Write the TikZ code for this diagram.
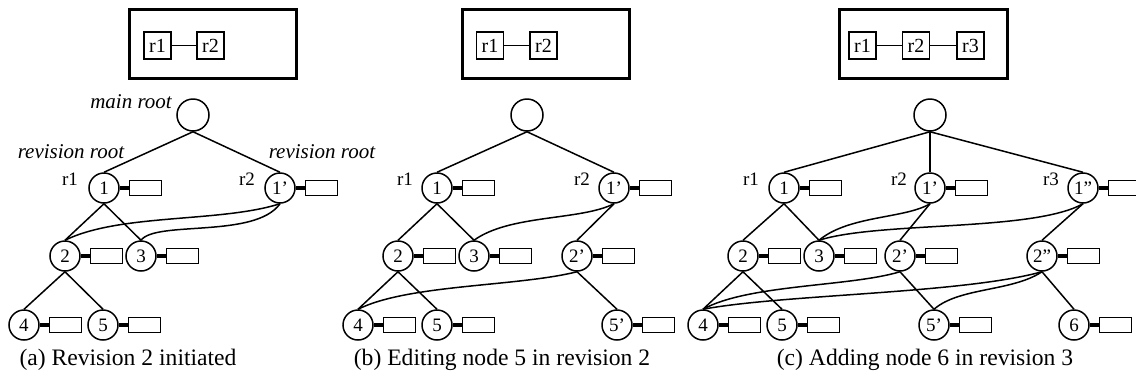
\documentclass[tikz,border=0pt]{standalone}
\usepackage{fontspec}
\setmainfont{Liberation Serif}
\usetikzlibrary{positioning}

\tikzset{
  vtx/.style={draw, circle, line width=0.75pt, minimum size=15pt, inner sep=0pt,
    font=\fontsize{9.5}{10}\selectfont},
  rootvtx/.style={vtx, minimum size=16pt},
  rec/.style={draw, line width=0.75pt, minimum width=16pt, minimum height=7.5pt, inner sep=0pt},
  link/.style={line width=2pt},
  edge/.style={line width=0.75pt},
  revbox/.style={draw, line width=0.7pt, minimum size=13.5pt, inner sep=0pt,
    font=\fontsize{10}{10}\selectfont},
  frame/.style={line width=1.5pt},
  tag/.style={font=\fontsize{9.5}{10}\selectfont},
  note/.style={font=\fontsize{10.5}{12}\selectfont\itshape},
  caption/.style={anchor=base, font=\fontsize{11.8}{14}\selectfont}
}

\begin{document}
\begin{tikzpicture}[x=0.5pt, y=-0.5pt]
\useasboundingbox (0,0) rectangle (1136,381);

% Revision lists (top)
\draw[frame] (129,9) rectangle (296,78);
\node[revbox] (ar1) at (157.5,45.5) {r1};
\node[revbox] (ar2) at (210.5,45.5) {r2};
\draw[edge] (ar1) -- (ar2);

\draw[frame] (462,9) rectangle (629,78);
\node[revbox] (br1) at (490,45.5) {r1};
\node[revbox] (br2) at (543.5,45.5) {r2};
\draw[edge] (br1) -- (br2);

\draw[frame] (839,9) rectangle (1007,78);
\node[revbox] (cr1) at (862.5,45.5) {r1};
\node[revbox] (cr2) at (916,45.5) {r2};
\node[revbox] (cr3) at (970.5,45.5) {r3};
\draw[edge] (cr1) -- (cr2) -- (cr3);

% Main roots
\node[rootvtx] (aroot) at (193,115) {};
\node[rootvtx] (broot) at (527,115) {};
\node[rootvtx] (croot) at (930,115) {};

% Tree nodes with their records
\foreach \n/\x/\y/\t in {a1/104/188/1, a1b/280/188/1', a2/65/256/2, a3/141/256/3,
    a4/24/325/4, a5/103/325/5,
    b1/437/188/1, b1b/614/188/1', b2/398/256/2, b3/474/256/3, b2b/577/256/2',
    b4/358/325/4, b5/437/325/5, b5b/617/325/5',
    c1/784/188/1, c1b/930/188/1', c1c/1083/188/1'', c2/743/256/2, c3/819/256/3,
    c2b/900/256/2', c2c/1042/256/2'', c4/703/325/4, c5/782/325/5,
    c5b/934/325/5', c6/1074/325/6}
{
  \node[vtx] (\n) at (\x,\y) {\t};
  \node[rec, right=4.5pt of \n] (\n-r) {};
  \draw[link] (\n) -- (\n-r);
}

% (a) edges
\draw[edge] (aroot.south) -- (a1.north);
\draw[edge] (aroot.south) -- (a1b.north);
\draw[edge] (a1.south) -- (a2.north);
\draw[edge] (a1.south) -- (a3.north);
\draw[edge] (a2.south) -- (a4.north);
\draw[edge] (a2.south) -- (a5.north);
\draw[edge] (a1b.south) .. controls +(-60,19) and +(55,-27) .. (a2.north);
\draw[edge] (a1b.south) .. controls +(-25,35) and +(15,-20) .. (a3.north);

% (b) edges
\draw[edge] (broot.south) -- (b1.north);
\draw[edge] (broot.south) -- (b1b.north);
\draw[edge] (b1.south) -- (b2.north);
\draw[edge] (b1.south) -- (b3.north);
\draw[edge] (b2.south) -- (b4.north);
\draw[edge] (b2.south) -- (b5.north);
\draw[edge] (b1b.south) -- (b2b.north);
\draw[edge] (b2b.south) -- (b5b.north);
\draw[edge] (b1b.south) .. controls +(-34,17) and +(36,-26) .. (b3.north);
\draw[edge] (b2b.south) .. controls +(-60,15) and +(50,-25) .. (b4.north);

% (c) edges
\draw[edge] (croot.south) -- (c1.north);
\draw[edge] (croot.south) -- (c1b.north);
\draw[edge] (croot.south) -- (c1c.north);
\draw[edge] (c1.south) -- (c2.north);
\draw[edge] (c1.south) -- (c3.north);
\draw[edge] (c2.south) -- (c4.north);
\draw[edge] (c2.south) -- (c5.north);
\draw[edge] (c1b.south) -- (c2b.north);
\draw[edge] (c2b.south) -- (c5b.north);
\draw[edge] (c1c.south) -- (c2c.north);
\draw[edge] (c2c.south) -- (c6.north);
\draw[edge] (c1b.south) .. controls +(-25,15) and +(30,-25) .. (c3.north);
\draw[edge] (c1c.south) .. controls +(-50,28) and +(60,-19) .. (c3.north);
\draw[edge] (c2b.south) .. controls +(-50,15) and +(45,-25) .. (c4.north);
\draw[edge] (c2c.south) .. controls +(-80,22) and +(80,-15) .. (c4.north);
\draw[edge] (c2c.south) .. controls +(-30,20) and +(25,-22) .. (c5b.north);

% Labels
\node[note] at (131,102) {main root};
\node[note] at (71,152) {revision root};
\node[note] at (322,152) {revision root};
\node[tag] at (70,179) {r1};
\node[tag] at (247,179) {r2};
\node[tag] at (405,179) {r1};
\node[tag] at (582,179) {r2};
\node[tag] at (751,179) {r1};
\node[tag] at (899,179) {r2};
\node[tag] at (1051,179) {r3};

% Captions
\node[caption] at (128,365) {(a) Revision 2 initiated};
\node[caption] at (502,365) {(b) Editing node 5 in revision 2};
\node[caption] at (925,365) {(c) Adding node 6 in revision 3};

\end{tikzpicture}
\end{document}
